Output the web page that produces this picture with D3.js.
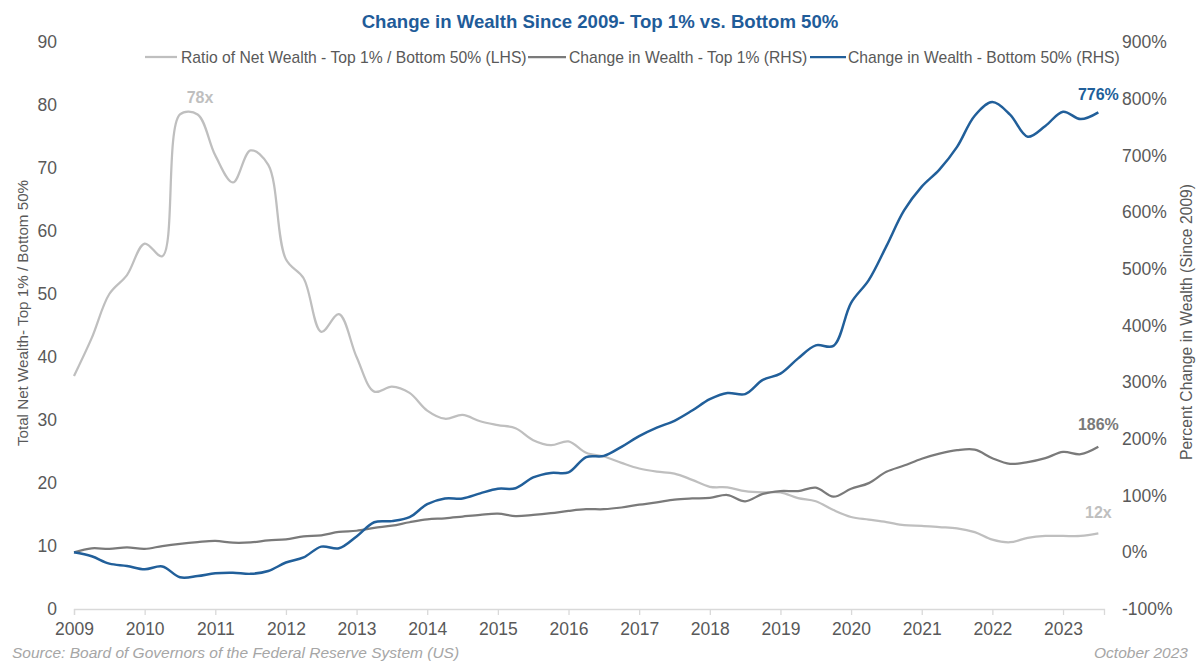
<!DOCTYPE html>
<html>
<head>
<meta charset="utf-8">
<script src="https://cdn.jsdelivr.net/npm/d3@7"></script>
<style>
html,body{margin:0;padding:0;background:#fff;}
svg{display:block;}
text{font-family:"Liberation Sans Narrow","Liberation Sans",Arial,sans-serif;}
</style>
</head>
<body>
<svg id="chart" width="1200" height="664"></svg>
<script>
// ---- Data (quarterly, 2009 Q1 .. 2023 Q3) ----
const startYear = 2009;
const quarters = d3.range(59).map(i => startYear + i * 0.25);

// Ratio of Net Wealth - Top 1% / Bottom 50% (LHS)
const ratio = [37,43,50,53,58,56,78.5,78.5,72,67.7,72.8,70.5,55.5,52.5,44,46.8,
  40,34.5,35.3,34.3,31.5,30.2,30.8,29.8,29.2,28.7,26.8,26.0,26.6,24.8,24.2,23.2,
  22.3,21.8,21.5,20.5,19.4,19.3,18.7,18.5,18.5,17.6,17.1,15.7,14.6,14.2,13.8,13.3,
  13.2,13.0,12.8,12.2,11.0,10.6,11.3,11.6,11.6,11.6,12.0];

// Change in Wealth - Top 1% (RHS, %)
const top1 = [0,7,6,8.5,6,11,15,18,20,17,17.5,21,23,28,30,36,
  38,43,47,53,58,60,63,66,68,64,66,69,73,76,76,79,
  84,88,93,95,96,101,90,103,108,108,114,98,112,122,142,153,
  165,174,180,181,166,156,159,166,177,173,186];

// Change in Wealth - Bottom 50% (RHS, %)
const bottom50 = [0,-7,-20,-24,-30,-25,-44,-42,-37,-36,-38,-33,-18,-9,10,7,
  28,53,55,62,85,95,95,104,112,113,132,140,141,168,170,186,
  205,220,232,250,270,281,279,304,315,342,365,364,440,480,540,603,
  645,675,715,770,794,772,733,752,777,764,776];

const yearTicks = d3.range(2009, 2024);
const leftTicks = d3.range(0, 91, 10);
const rightTicks = d3.range(-100, 901, 100);

const seriesNames = ["Ratio of Net Wealth - Top 1% / Bottom 50% (LHS)",
  "Change in Wealth - Top 1% (RHS)",
  "Change in Wealth - Bottom 50% (RHS)"];
const colors = ["#bfbfbf", "#7a7a7a", "#215f9a"];

// ---- Layout ----
const svg = d3.select("#chart");
const x = d3.scaleLinear().domain([2009, 2023.58]).range([74, 1104]);
const yL = d3.scaleLinear().domain([0, 90]).range([609, 42]);
const yR = d3.scaleLinear().domain([-100, 900]).range([609, 42]);
const FONT = "'Liberation Sans Narrow','Liberation Sans',Arial,sans-serif";

// Title
svg.append("text").attr("x", 600).attr("y", 28).attr("text-anchor", "middle")
  .attr("font-size", 18.6).attr("font-weight", "bold").attr("fill", "#1f5c99")
  .text("Change in Wealth Since 2009- Top 1% vs. Bottom 50%");

// X axis
const xAxis = svg.append("g").attr("transform", "translate(0,609)")
  .call(d3.axisBottom(x).tickValues(yearTicks).tickFormat(d3.format("d")).tickSize(6).tickPadding(8));
xAxis.select(".domain").attr("stroke", "#d9d9d9").attr("stroke-width", 1.3);
xAxis.selectAll(".tick line").attr("stroke", "#d9d9d9").attr("stroke-width", 1.3);
xAxis.selectAll(".tick text").attr("font-size", 17.5).attr("fill", "#595959").attr("font-family", FONT);

// Left axis
const lAxis = svg.append("g").attr("transform", "translate(62,0)")
  .call(d3.axisLeft(yL).tickValues(leftTicks).tickSize(0).tickPadding(5));
lAxis.select(".domain").remove();
lAxis.selectAll(".tick text").attr("font-size", 17.5).attr("fill", "#595959").attr("font-family", FONT);

// Right axis
const rAxis = svg.append("g").attr("transform", "translate(1117,0)")
  .call(d3.axisRight(yR).tickValues(rightTicks).tickFormat(d => d + "%").tickSize(0).tickPadding(5));
rAxis.select(".domain").remove();
rAxis.selectAll(".tick text").attr("font-size", 17.5).attr("fill", "#595959").attr("font-family", FONT);

// Axis titles
svg.append("text").attr("transform", "translate(28,313) rotate(-90)")
  .attr("text-anchor", "middle").attr("font-size", 15.2).attr("fill", "#595959")
  .text("Total Net Wealth- Top 1% / Bottom 50%");
svg.append("text").attr("transform", "translate(1192,322) rotate(-90)")
  .attr("text-anchor", "middle").attr("font-size", 15.7).attr("fill", "#595959")
  .text("Percent Change in Wealth (Since 2009)");

// Lines
const lineL = d3.line().x((d, i) => x(quarters[i])).y(d => yL(d)).curve(d3.curveCatmullRom.alpha(0.5));
const lineR = d3.line().x((d, i) => x(quarters[i])).y(d => yR(d)).curve(d3.curveCatmullRom.alpha(0.5));

svg.append("path").datum(ratio).attr("d", lineL).attr("fill", "none")
  .attr("stroke", colors[0]).attr("stroke-width", 2.25);
svg.append("path").datum(top1).attr("d", lineR).attr("fill", "none")
  .attr("stroke", colors[1]).attr("stroke-width", 2.25);
svg.append("path").datum(bottom50).attr("d", lineR).attr("fill", "none")
  .attr("stroke", colors[2]).attr("stroke-width", 2.5);

// Legend
const legendItems = [
  {x1: 145, x2: 177, tx: 181},
  {x1: 528, x2: 566, tx: 569},
  {x1: 810, x2: 846, tx: 848}
];
legendItems.forEach((l, i) => {
  svg.append("line").attr("x1", l.x1).attr("x2", l.x2).attr("y1", 57).attr("y2", 57)
    .attr("stroke", colors[i]).attr("stroke-width", 2.25);
  svg.append("text").attr("x", l.tx).attr("y", 62.5).attr("font-size", 15.7)
    .attr("fill", "#595959").text(seriesNames[i]);
});

// Annotations
const last = quarters.length - 1;
svg.append("text").attr("x", 200).attr("y", 103).attr("text-anchor", "middle")
  .attr("font-size", 16).attr("font-weight", "bold").attr("fill", "#bfbfbf").text("78x");
svg.append("text").attr("x", x(quarters[last])).attr("y", 518).attr("text-anchor", "middle")
  .attr("font-size", 16).attr("font-weight", "bold").attr("fill", "#bfbfbf").text("12x");
svg.append("text").attr("x", x(quarters[last])).attr("y", 430).attr("text-anchor", "middle")
  .attr("font-size", 16).attr("font-weight", "bold").attr("fill", "#7a7a7a").text("186%");
svg.append("text").attr("x", x(quarters[last])).attr("y", 100).attr("text-anchor", "middle")
  .attr("font-size", 16).attr("font-weight", "bold").attr("fill", "#215f9a").text("776%");

// Footer
svg.append("text").attr("x", 12).attr("y", 658).attr("font-size", 15.5).attr("font-style", "italic")
  .attr("fill", "#a6a6a6").text("Source: Board of Governors of the Federal Reserve System (US)");
svg.append("text").attr("x", 1188).attr("y", 658).attr("text-anchor", "end").attr("font-size", 15.5)
  .attr("font-style", "italic").attr("fill", "#a6a6a6").text("October 2023");
</script>
</body>
</html>
